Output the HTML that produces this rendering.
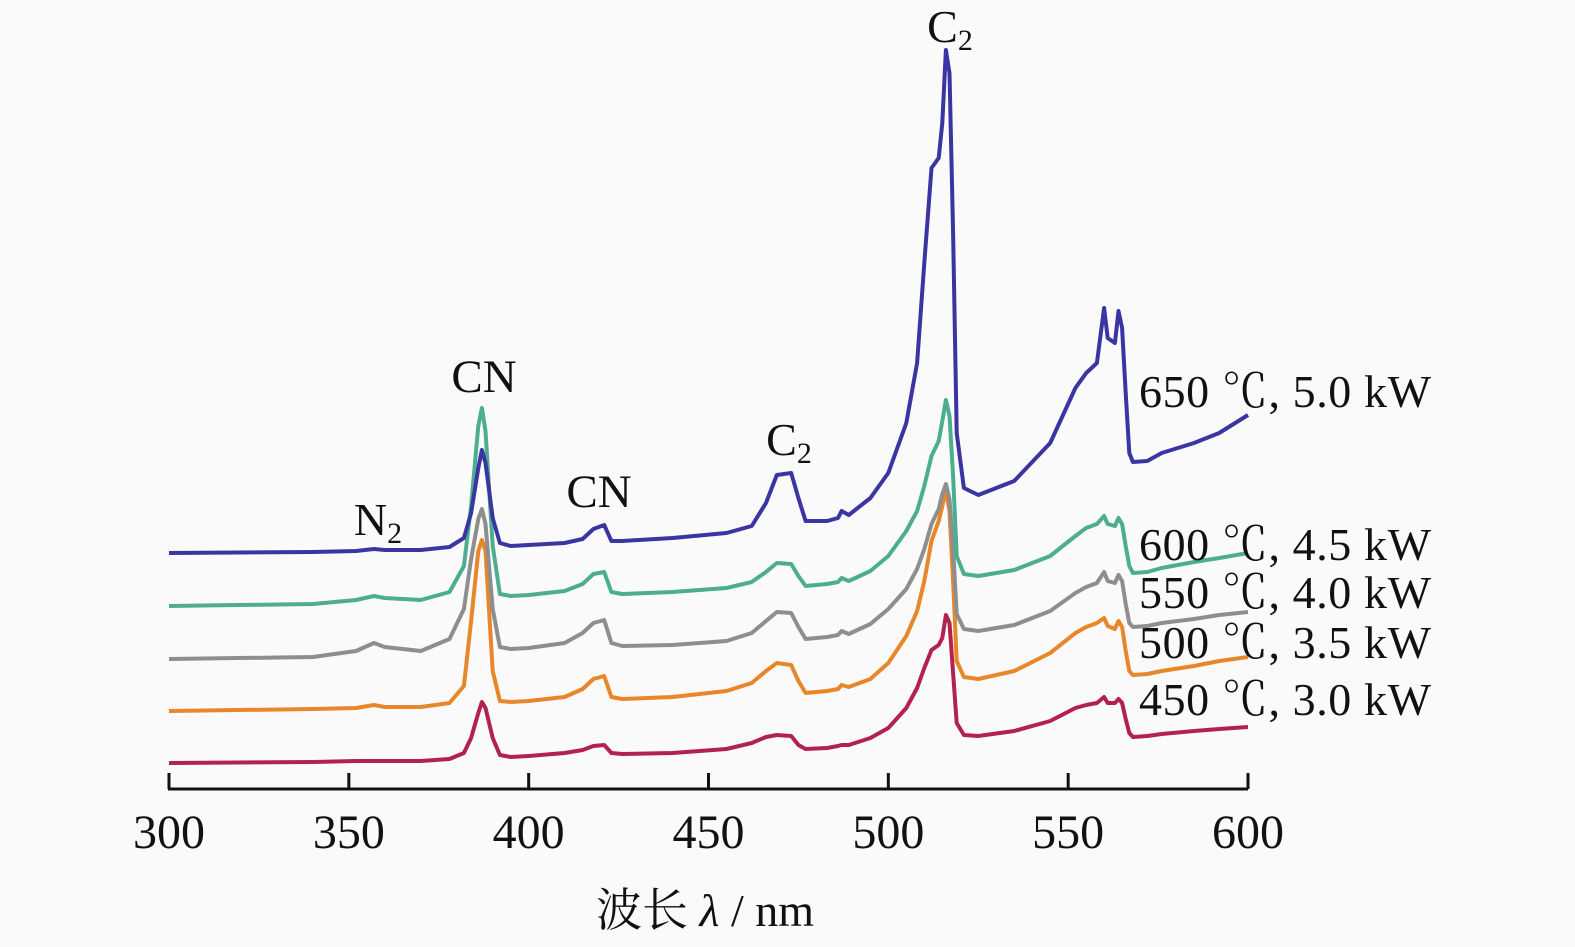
<!DOCTYPE html>
<html><head><meta charset="utf-8"><style>
body{margin:0;background:#fafafa}
svg{display:block}
text{font-family:"Liberation Serif","Noto Serif CJK SC",serif;fill:#111}
</style></head><body>
<svg id="chart" width="1575" height="947" viewBox="0 0 1575 947">
<rect width="1575" height="947" fill="#fafafa"/>
<g id="series"></g>
<g id="axis"></g>
<text x="378" y="535" font-size="46" text-anchor="middle">N<tspan font-size="30" dy="8">2</tspan></text>
<text x="484" y="392" font-size="47" text-anchor="middle">CN</text>
<text x="599" y="507" font-size="47" text-anchor="middle">CN</text>
<text x="789" y="455" font-size="46" text-anchor="middle">C<tspan font-size="30" dy="8">2</tspan></text>
<text x="950" y="42" font-size="46" text-anchor="middle">C<tspan font-size="30" dy="8">2</tspan></text>
<text x="705" y="926" font-size="46" text-anchor="middle">波长 <tspan font-style="italic">λ</tspan> / nm</text>
</svg>
<script>
const wavelengths=[300,340,352,357,360,370,378,382,384,386,387,388,390,392,395,400,410,415,418,421,423,426,440,455,462,466,469,473,475,477,483,486,487,489,495,500,505,508,510,512,514,515,516,517,518,519,521,525,535,545,552,555,558,560,561,563,564,565,566,567,568,572,576,585,592,600];
const s450=[0,1,2,2,2,2,4,10,25,50,61,55,25,8,6,7,10,13,17,18,10,9,10,14,20,26,28,27,18,14,15,17,18,18,25,35,55,75,95,113,118,125,148,140,90,40,28,27,32,42,55,58,60,66,60,60,64,60,44,30,26,27,29,32,34,36];
const s500=[0,2,3,6,4,4,8,25,90,160,171,160,40,10,9,10,14,22,32,35,14,12,14,20,28,40,48,46,30,18,20,22,26,24,32,48,75,100,130,170,190,205,221,200,130,50,34,32,40,58,78,84,88,93,85,82,90,84,60,40,36,37,40,45,50,54];
const s550=[0,2,8,16,12,8,20,50,100,140,150,135,50,12,10,11,16,26,36,39,16,13,14,18,26,38,47,46,32,20,22,24,28,25,35,50,70,90,110,135,150,165,175,160,110,45,30,28,34,48,66,72,76,87,78,76,84,78,55,36,32,33,36,40,44,47];
const s600=[0,2,6,10,8,6,14,40,100,180,198,175,60,12,10,11,15,22,32,34,14,12,14,18,24,34,43,42,30,20,22,24,28,25,35,50,75,95,120,150,165,185,206,190,130,50,32,30,36,50,70,78,82,90,82,80,88,82,60,40,33,34,38,44,48,53];
const s650=[0,1,2,4,3,3,6,15,40,85,103,90,35,10,7,8,10,14,24,28,12,12,15,20,27,50,78,80,55,32,32,35,42,38,55,80,130,190,290,385,395,430,503,480,320,120,65,58,72,110,165,180,190,245,215,210,242,225,160,100,91,92,100,110,120,138];
const seriesLabels=["450 ℃, 3.0 kW","500 ℃, 3.5 kW","550 ℃, 4.0 kW","600 ℃, 4.5 kW","650 ℃, 5.0 kW"];
const xTicks=[300,350,400,450,500,550,600];
const offsets=[763,711,659,606,553];
const labelY=[715,658,608,560,407];
const colors=["#b3224f","#e8862a","#8e8e8e","#4cae8e","#3b35a3"];
const allSeries=[s450,s500,s550,s600,s650];
const NS="http://www.w3.org/2000/svg";
const x0=169,x1=1248,axisY=789;
function xs(v){return x0+(v-300)/(600-300)*(x1-x0);}
function ys(i,v){return offsets[i]-v;}
const g=document.getElementById('series');
allSeries.forEach((s,i)=>{
  const p=document.createElementNS(NS,'path');
  let d='';
  wavelengths.forEach((w,k)=>{d+=(k?'L':'M')+xs(w).toFixed(1)+','+ys(i,s[k]).toFixed(1);});
  p.setAttribute('d',d);
  p.setAttribute('fill','none');
  p.setAttribute('stroke',colors[i]);
  p.setAttribute('stroke-width','4');
  p.setAttribute('stroke-linejoin','round');
  
  
  g.appendChild(p);
  const t=document.createElementNS(NS,'text');
  t.setAttribute('x','1139');
  t.setAttribute('y',labelY[i]);
  t.setAttribute('font-size','46');
  t.setAttribute('textLength','292');
  t.setAttribute('lengthAdjust','spacing');
  t.textContent=seriesLabels[i];
  
  
  g.appendChild(t);
});
const ax=document.getElementById('axis');
const line=document.createElementNS(NS,'line');
line.setAttribute('x1',x0-1);line.setAttribute('x2',x1);line.setAttribute('y1',axisY);line.setAttribute('y2',axisY);
line.setAttribute('stroke','#111');line.setAttribute('stroke-width','3');


ax.appendChild(line);
xTicks.forEach(v=>{
  const tk=document.createElementNS(NS,'line');
  tk.setAttribute('x1',xs(v));tk.setAttribute('x2',xs(v));tk.setAttribute('y1',axisY);tk.setAttribute('y2',axisY-16);
  tk.setAttribute('stroke','#111');tk.setAttribute('stroke-width','3');
  
  
  ax.appendChild(tk);
  const lb=document.createElementNS(NS,'text');
  lb.setAttribute('x',xs(v));lb.setAttribute('y','848');lb.setAttribute('font-size','48');lb.setAttribute('text-anchor','middle');
  lb.textContent=v;
  
  
  ax.appendChild(lb);
});
</script>
</body></html>
